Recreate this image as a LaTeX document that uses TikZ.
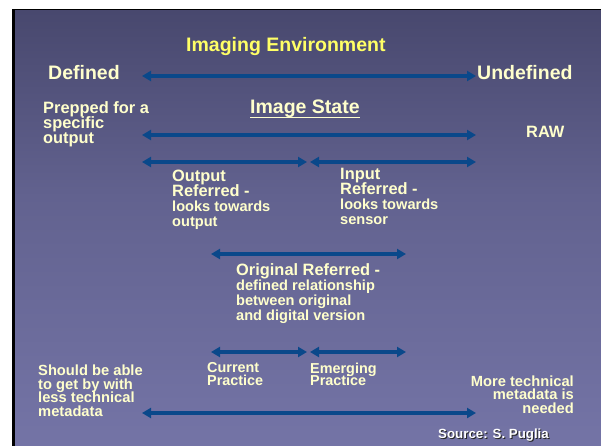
\documentclass[tikz,border=0pt]{standalone}
\usepackage{fontspec}
\setmainfont{Liberation Sans}
\usepackage{tikz}
\usetikzlibrary{arrows.meta, positioning}
\lineskiplimit=-100pt
\definecolor{bgtop}{RGB}{72,72,110}
\definecolor{bgbot}{RGB}{116,116,166}
\definecolor{cream}{RGB}{255,255,204}
\definecolor{titleyellow}{RGB}{255,255,102}
\definecolor{arrowblue}{RGB}{10,72,138}
\newcommand{\hdsize}{\fontsize{19.5}{21}\selectfont}
\newcommand{\mdsize}{\fontsize{16.4}{15}\selectfont}
\newcommand{\smsize}{\fontsize{14.6}{14}\selectfont}
\newcommand{\shadowtxt}[1]{\makebox[0pt][l]{\hspace{1pt}\raisebox{-1pt}{\color{black!85}#1}}#1}
\tikzstyle{lbl} = [inner sep=0pt, text=cream, font=\bfseries, align=left]
\tikzstyle{dblarrow} = [line width=3.5pt, draw=arrowblue, {Triangle[length=9pt,width=10pt]}-{Triangle[length=9pt,width=10pt]}]
\begin{document}
\begin{tikzpicture}[x=1pt, y=-1pt]
\useasboundingbox (0,0) rectangle (601,446);

% Slide background
\fill[white] (0,0) rectangle (601,446);
\fill[black] (12,9) rectangle (601,446);
\shade[top color=bgtop, bottom color=bgtop!40!bgbot] (15,11) rectangle (601,200);
\shade[top color=bgtop!40!bgbot, bottom color=bgbot] (15,200) rectangle (601,446);

% Imaging environment
\node (env) [lbl, text=titleyellow, font=\bfseries\hdsize, anchor=base west] at (186,52) {Imaging Environment};
\node (defined) [lbl, font=\bfseries\hdsize, anchor=base west] at (48,80) {Defined};
\node (undefined) [lbl, font=\bfseries\hdsize, anchor=base west] at (477,80) {Undefined};
\coordinate (env_l) at (142,76);
\coordinate (env_r) at (476,76);

% Image state
\node (state) [lbl, font=\bfseries\hdsize, anchor=base west] at (250,114) {Image State};
\node (prepped) [lbl, font=\bfseries\mdsize, anchor=north west] at (43,101) {Prepped for a\\specific\\output};
\node (raw) [lbl, font=\bfseries\mdsize, anchor=base west] at (526,138) {RAW};
\coordinate (state_l) at (142,135);
\coordinate (state_r) at (476,135);

% Output / input referred
\coordinate (ref_l) at (142,162);
\coordinate (ref_ml) at (307,162);
\coordinate (ref_mr) at (310,162);
\coordinate (ref_r) at (476,162);
\node (outref) [lbl, font=\bfseries\mdsize, anchor=north west] at (172,170) {Output\\Referred -\\\smsize looks towards\\\smsize output};
\node (inref) [lbl, font=\bfseries\mdsize, anchor=north west] at (340,168) {Input\\Referred -\\\smsize looks towards\\\smsize sensor};

% Original referred
\coordinate (orig_l) at (211,254);
\coordinate (orig_r) at (406,254);
\node (origref) [lbl, font=\bfseries\mdsize, anchor=north west] at (236,263) {Original Referred -\\\fontsize{14.6}{14.3}\selectfont defined relationship\\\fontsize{14.6}{14.3}\selectfont between original\\\fontsize{14.6}{14.3}\selectfont and digital version};

% Practice
\coordinate (prac_l) at (211,352);
\coordinate (prac_ml) at (307,352);
\coordinate (prac_mr) at (310,352);
\coordinate (prac_r) at (406,352);
\node (current) [lbl, font=\bfseries\fontsize{14.4}{12.5}\selectfont, anchor=north west] at (207,362.5) {Current\\Practice};
\node (emerging) [lbl, font=\bfseries\fontsize{14.4}{12.5}\selectfont, anchor=north west] at (310,362.5) {Emerging\\Practice};

% Metadata
\node (less) [lbl, font=\bfseries\fontsize{14.7}{13.7}\selectfont, anchor=north west] at (38,364.5) {Should be able\\to get by with\\less technical\\metadata};
\node (more) [lbl, font=\bfseries\fontsize{14.7}{13.5}\selectfont, align=right, anchor=north east] at (574,375.5) {More technical\\metadata is\\needed};
\coordinate (meta_l) at (142,413);
\coordinate (meta_r) at (476,413);
\node (source) [lbl, text=white, font=\bfseries\fontsize{13.3}{14}\selectfont, anchor=base west] at (438,438) {\shadowtxt{Source: S. Puglia}};

% Arrows
\draw [dblarrow] (env_l) -- (env_r);
\draw [dblarrow] (state_l) -- (state_r);
\draw [dblarrow] (ref_l) -- (ref_ml);
\draw [dblarrow] (ref_mr) -- (ref_r);
\draw [dblarrow] (orig_l) -- (orig_r);
\draw [dblarrow] (prac_l) -- (prac_ml);
\draw [dblarrow] (prac_mr) -- (prac_r);
\draw [dblarrow] (meta_l) -- (meta_r);
\draw [cream, line width=1.5pt] ([yshift=-3.5pt]state.base west) -- ([yshift=-3.5pt]state.base east);

\end{tikzpicture}
\end{document}
